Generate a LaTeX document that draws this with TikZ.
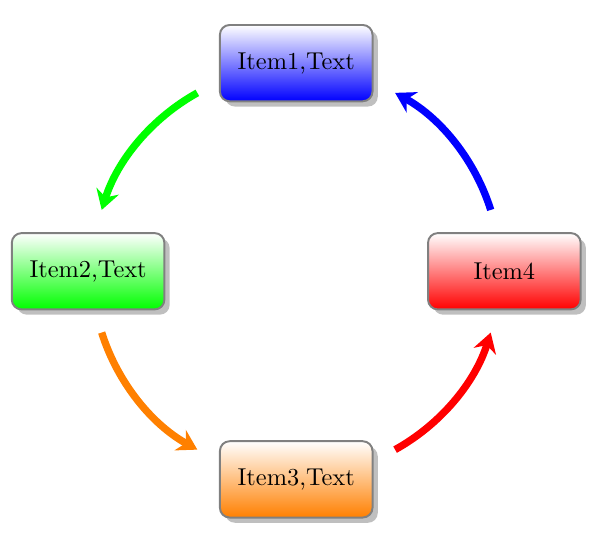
\documentclass[tikz,border=0pt]{standalone}
\usepackage{tikz}
\usetikzlibrary{positioning,arrows.meta,shadows}

\begin{document}
\begin{tikzpicture}[
item/.style={draw=gray, thick, rounded corners=4pt, minimum width=2.2cm, minimum height=1.1cm, align=center, top color=white, drop shadow},
arrow/.style={-{Stealth[length=8pt, width=9.5pt]}, line width=3pt}
]
\useasboundingbox (-4.27,-4.02) rectangle (4.35,3.91);
\node[item, bottom color=blue] (item1) at (0,3) {Item1,Text};
\node[item, bottom color=green] (item2) at (-3,0) {Item2,Text};
\node[item, bottom color=orange] (item3) at (0,-3) {Item3,Text};
\node[item, bottom color=red] (item4) at (3,0) {Item4};
% arrows run along a circle just inside the node centres
\coordinate (from1) at (119:2.94);
\coordinate (from2) at (197.5:2.94);
\coordinate (from3) at (299:2.94);
\coordinate (from4) at (17.5:2.94);
\draw[arrow, green] (from1) arc[start angle=119, end angle=162.5, radius=2.94cm];
\draw[arrow, orange] (from2) arc[start angle=197.5, end angle=241, radius=2.94cm];
\draw[arrow, red] (from3) arc[start angle=299, end angle=342.5, radius=2.94cm];
\draw[arrow, blue] (from4) arc[start angle=17.5, end angle=61, radius=2.94cm];
\end{tikzpicture}
\end{document}
